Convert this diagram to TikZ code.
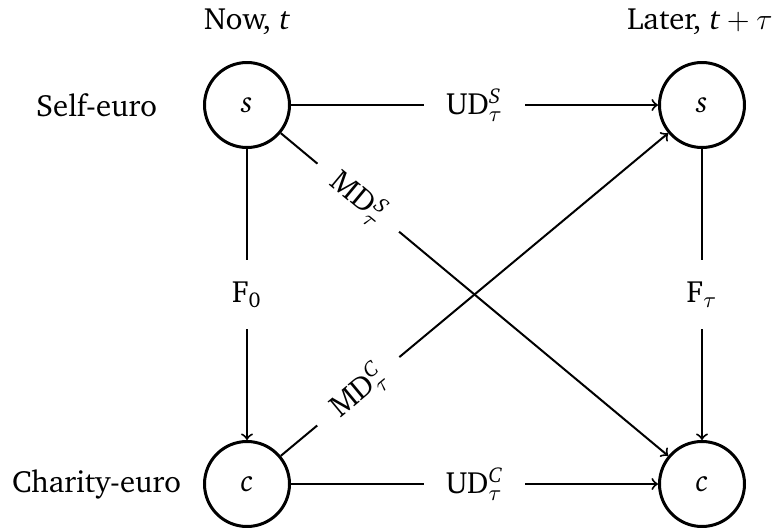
\documentclass[tikz,border=0pt]{standalone}
\usepackage[T1]{fontenc}
\usepackage{charter}
% italic letters in the labels set in the text italic
\newcommand{\vi}[1]{\textit{#1}}
% script-size text for super- and subscripts
\newcommand{\scr}[1]{\mbox{\fontsize{8.6}{9}\selectfont #1}}
\begin{document}
\begin{tikzpicture}[x=0.4pt, y=-0.4pt,
  font=\fontsize{12.3}{14}\selectfont,
  state/.style={circle, draw, very thick, minimum size=34pt, inner sep=0pt},
  edge/.style={->, thick},
  lbl/.style={fill=white, inner sep=8.8pt}]
  \useasboundingbox (0,0) rectangle (776,528);

  % column and row headings
  \node (now)   at (247,22)  {Now, \vi{t}};
  \node (later) at (700,22)  {Later, \vi{t}${}+\tau$};
  \node (self)  at (96.5,105) {Self-euro};
  \node (char)  at (96.5,484) {Charity-euro};

  % states
  \node[state] (s0) at (247,105) {\vi{s}};
  \node[state] (s1) at (702,105) {\vi{s}};
  \node[state] (c0) at (247,484) {\vi{c}};
  \node[state] (c1) at (702,484) {\vi{c}};

  % transitions
  \draw[edge] (s0) -- node[lbl] {UD$^{\scr{\vi{S}}}_{\tau}$} (s1);
  \draw[edge] (c0) -- node[lbl] {UD$^{\scr{\vi{C}}}_{\tau}$} (c1);
  \draw[edge] (s0) -- node[lbl] {F$_{\scr{0}}$} (c0);
  \draw[edge] (s1) -- node[lbl] {F$_{\tau}$} (c1);
  \draw[edge] (s0) -- node[lbl, pos=0.2, sloped] {MD$^{\scr{\vi{S}}}_{\tau}$} (c1);
  \draw[edge] (c0) -- node[lbl, pos=0.2, sloped] {MD$^{\scr{\vi{C}}}_{\tau}$} (s1);
\end{tikzpicture}
\end{document}
